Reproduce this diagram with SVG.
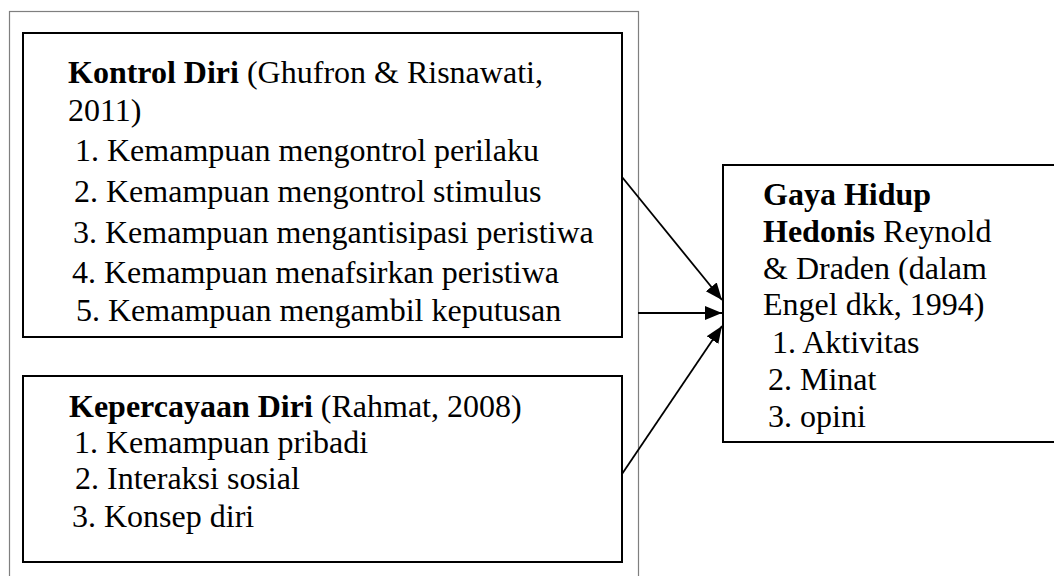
<svg xmlns="http://www.w3.org/2000/svg" width="1054" height="576" viewBox="0 0 1054 576">
<style>
  .frame { fill: none; stroke: #7f7f7f; stroke-width: 1.2; }
  .box { fill: #ffffff; stroke: #000000; stroke-width: 2; }
  .t { font-family: "Liberation Serif", "Times New Roman", serif; font-size: 32px; fill: #000000; }
  .b { font-weight: bold; }
  .conn { stroke: #000000; stroke-width: 1.8; fill: none; }
</style>
<defs>
  <marker id="arrow" markerUnits="userSpaceOnUse" markerWidth="18" markerHeight="16" refX="17" refY="8" orient="auto">
    <path d="M0,1 L17,8 L0,15 Z" fill="#000000"/>
  </marker>
</defs>
<rect width="1054" height="576" fill="#ffffff"/>
<rect id="frame" class="frame" x="9.5" y="11.5" width="629" height="580"/>
<g id="node-kontrol">
  <rect class="box" x="23" y="33" width="599" height="304"/>
  <text class="t" x="68" y="83"><tspan class="b">Kontrol Diri</tspan> (Ghufron &amp; Risnawati,</text>
  <text class="t" x="68" y="121">2011)</text>
  <text class="t" x="75" y="161">1. Kemampuan mengontrol perilaku</text>
  <text class="t" x="74" y="202">2. Kemampuan mengontrol stimulus</text>
  <text class="t" x="73" y="243">3. Kemampuan mengantisipasi peristiwa</text>
  <text class="t" x="72" y="283">4. Kemampuan menafsirkan peristiwa</text>
  <text class="t" x="76" y="321">5. Kemampuan mengambil keputusan</text>
</g>
<g id="node-kepercayaan">
  <rect class="box" x="23" y="376" width="599" height="186"/>
  <text class="t" x="69" y="417"><tspan class="b">Kepercayaan Diri</tspan> (Rahmat, 2008)</text>
  <text class="t" x="74" y="453">1. Kemampuan pribadi</text>
  <text class="t" x="75" y="489">2. Interaksi sosial</text>
  <text class="t" x="72" y="527">3. Konsep diri</text>
</g>
<g id="node-gaya">
  <rect class="box" x="723" y="165" width="340" height="277"/>
  <text class="t b" x="763" y="205">Gaya Hidup</text>
  <text class="t" x="763" y="242"><tspan class="b">Hedonis</tspan> Reynold</text>
  <text class="t" x="763" y="279">&amp; Draden (dalam</text>
  <text class="t" x="763" y="315">Engel dkk, 1994)</text>
  <text class="t" x="772" y="353">1. Aktivitas</text>
  <text class="t" x="768" y="390">2. Minat</text>
  <text class="t" x="768" y="427">3. opini</text>
</g>
<g id="connectors">
  <line class="conn" x1="622" y1="177" x2="722" y2="300" marker-end="url(#arrow)"/>
  <line class="conn" x1="638" y1="313" x2="722" y2="313" marker-end="url(#arrow)"/>
  <line class="conn" x1="622" y1="474" x2="722" y2="326" marker-end="url(#arrow)"/>
</g>
</svg>
